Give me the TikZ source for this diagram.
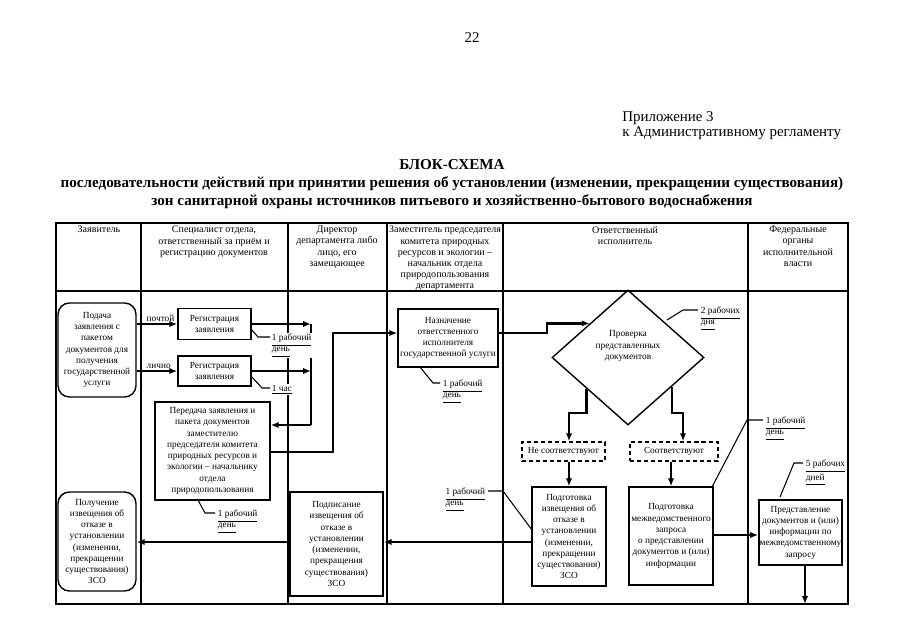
\documentclass[tikz,border=0pt]{standalone}
\usepackage{fontspec}
\setmainfont{Liberation Serif}
\usetikzlibrary{arrows.meta,shapes.geometric,calc}
\newcommand{\bfs}{\fontsize{5.3}{6.4}\selectfont}
\newcommand{\hfs}{\fontsize{5.7}{6.3}\selectfont}
\newcommand{\myul}[1]{\underline{#1}}
\begin{document}
\begin{tikzpicture}[x=0.02cm,y=-0.02cm,
  box/.style={draw, line width=0.8pt, align=center, inner sep=0.5pt, font=\bfs},
  rbox/.style={box, rounded corners=6.5pt},
  dbox/.style={box, dash pattern=on 2.3pt off 1.7pt},
  conn/.style={line width=1.4pt, -{Latex[length=4.5pt,width=3.6pt]}},
  link/.style={line width=1.4pt},
  lead/.style={line width=0.6pt},
  lbl/.style={font=\bfs, align=left, inner sep=0.3pt, fill=white},
  grid/.style={line width=0.9pt},
  head/.style={font=\hfs, align=center, anchor=north, inner sep=0pt}]
\useasboundingbox (0,0) rectangle (905,640);
\fill[white] (0,0) rectangle (905,640);

% page head
\node[font=\fontsize{8.5}{10}\selectfont, inner sep=0] (pg) at (472,38) {22};
\node[anchor=north west, align=left, inner sep=0, font=\fontsize{8.5}{8.9}\selectfont] (app) at (622,111)
  {Приложение 3\\к Административному регламенту};
\node[anchor=north, align=center, inner sep=0, font=\bfseries\fontsize{8.6}{10.3}\selectfont] (title) at (452,159)
  {БЛОК-СХЕМА\\последовательности действий при принятии решения об установлении (изменении, прекращении существования)\\зон санитарной охраны источников питьевого и хозяйственно-бытового водоснабжения};

% table
\draw[grid] (56,223) rectangle (848,604);
\draw[grid] (56,291) -- (848,291);
\foreach \xx in {141,288,387,503,748} \draw[grid] (\xx,223) -- (\xx,604);

\node[head] (h1) at (99,226) {Заявитель};
\node[head] (h2) at (214,226) {Специалист отдела,\\ответственный за приём и\\регистрацию документов};
\node[head] (h3) at (337,226) {Директор\\департамента либо\\лицо, его\\замещающее};
\node[head] (h4) at (445,226) {Заместитель председателя\\комитета природных\\ресурсов и экологии –\\начальник отдела\\природопользования\\департамента};
\node[head] (h5) at (625,226) {Ответственный\\исполнитель};
\node[head] (h6) at (798,226) {Федеральные\\органы\\исполнительной\\власти};

% nodes
\node[rbox, minimum width={78*0.02cm}, minimum height={94*0.02cm}] (podacha) at (97,350)
  {Подача\\заявления с\\пакетом\\документов для\\получения\\государственной\\услуги};
\node[box, minimum width={73*0.02cm}, minimum height={31*0.02cm}] (reg1) at (214.5,324)
  {Регистрация\\заявления};
\node[box, minimum width={73*0.02cm}, minimum height={30*0.02cm}] (reg2) at (214.5,371)
  {Регистрация\\заявления};
\node[box, minimum width={115*0.02cm}, minimum height={98*0.02cm}] (pered) at (212.5,451)
  {Передача заявления и\\пакета документов\\заместителю\\председателя комитета\\природных ресурсов и\\экологии – начальнику\\отдела\\природопользования};
\node[box, minimum width={100*0.02cm}, minimum height={58*0.02cm}] (nazn) at (448,338)
  {Назначение\\ответственного\\исполнителя\\государственной услуги};
\node[diamond, draw, line width=0.8pt, minimum width={152*0.02cm}, minimum height={135*0.02cm}, inner sep=0pt] (dia) at (628,357.5) {};
\node[font=\bfs, align=center, inner sep=0pt] (diat) at (628,346) {Проверка\\представленных\\документов};
\node[dbox, minimum width={83*0.02cm}, minimum height={19*0.02cm}] (ne) at (563.5,451.5) {Не соответствуют};
\node[dbox, minimum width={88*0.02cm}, minimum height={19*0.02cm}] (sootv) at (674,451.5) {Соответствуют};
\node[box, minimum width={74*0.02cm}, minimum height={99*0.02cm}] (podg1) at (569,536.5)
  {Подготовка\\извещения об\\отказе в\\установлении\\(изменении,\\прекращении\\существования)\\ЗСО};
\node[box, minimum width={84*0.02cm}, minimum height={98*0.02cm}] (podg2) at (671,536)
  {Подготовка\\межведомственного\\запроса\\о представлении\\документов и (или)\\информации};
\node[box, minimum width={83*0.02cm}, minimum height={65*0.02cm}] (predst) at (800.5,532.5)
  {Представление\\документов и (или)\\информации по\\межведомственному\\запросу};
\node[box, minimum width={93*0.02cm}, minimum height={104*0.02cm}] (podpis) at (336.5,544)
  {Подписание\\извещения об\\отказе в\\установлении\\(изменении,\\прекращения\\существования)\\ЗСО};
\node[rbox, minimum width={78*0.02cm}, minimum height={99*0.02cm}] (poluch) at (97,541.5)
  {Получение\\извещения об\\отказе в\\установлении\\(изменении,\\прекращении\\существования)\\ЗСО};

% connectors
\draw[conn] (reg1.west -| podacha.east) -- (reg1.west)
  node[pos=0, anchor=south west, font=\bfs, inner sep=0.5pt, xshift=4.5pt] (lp) {почтой};
\draw[conn] (reg2.west -| podacha.east) -- (reg2.west)
  node[pos=0, anchor=south west, font=\bfs, inner sep=0.5pt, xshift=4.5pt] (ll) {лично};
\coordinate (m1) at (311,324);
\coordinate (m2) at (311,371);
\coordinate (m3) at (311,425);
\draw[conn] (reg1.east) -- (m1);
\draw[conn] (reg2.east) -- (m2);
\draw[link] (m1) -- (m3);
\draw[conn] (m3) -- (m3 -| pered.east);
\coordinate (c1) at (333,452);
\coordinate (c2) at (333,333);
\draw[conn] (c1 -| pered.east) -- (c1) -- (c2) -- (c2 -| nazn.west);
\coordinate (d1) at (547,333);
\draw[conn] (d1 -| nazn.east) -- (d1) -- (d1 |- dia.north west) -- (dia.north west);
\coordinate (dL) at ($(dia.south)!0.54!(dia.west)$);
\coordinate (dR) at ($(dia.south)!0.57!(dia.east)$);
\coordinate (bl) at (569,413);
\coordinate (br) at (683,413);
\draw[conn] (dL) -- (dL |- bl) -- (bl) -- (bl |- ne.north);
\draw[conn] (dR) -- (dR |- br) -- (br) -- (br |- sootv.north);
\draw[conn] (bl |- ne.south) -- (podg1.north);
\draw[conn] (podg2.north |- sootv.south) -- (podg2.north);
\coordinate (f) at (0,542);
\draw[conn] (podg1.west |- f) -- (podpis.east |- f);
\draw[conn] (podpis.west |- f) -- (poluch.east |- f);
\coordinate (g) at (0,535);
\draw[conn] (podg2.east |- g) -- (predst.west |- g);
\coordinate (hb) at (805,604);
\draw[conn] (predst.south -| hb) -- (hb);

% leaders and time labels
\draw[lead] (251,329) -- (258,337) -- (270,337);
\node[lbl, anchor=north west] (t1) at (271,333) {\myul{1 рабочий}\\\myul{день}};
\draw[lead] (251,376) -- (262,388) -- (270,388);
\node[lbl, anchor=north west] (t2) at (271,384) {\myul{1 час}};
\draw[lead] (198,500) -- (205,513) -- (215,513);
\node[lbl, anchor=north west] (t3) at (217,509) {\myul{1 рабочий}\\\myul{день}};
\draw[lead] (420,367) -- (433,383) -- (440,383);
\node[lbl, anchor=north west] (t4) at (442,379) {\myul{1 рабочий}\\\myul{день}};
\draw[lead] (667,320) -- (683,310) -- (698,310);
\node[lbl, anchor=north west] (t5) at (700,306) {\myul{2 рабочих}\\\myul{дня}};
\draw[lead] (532,530) -- (503,491) -- (488,491);
\node[lbl, anchor=north east] (t6) at (486,487) {\myul{1 рабочий}\\\myul{день}};
\draw[lead] (712,487) -- (747,420) -- (763,420);
\node[lbl, anchor=north west] (t7) at (765,416) {\myul{1 рабочий}\\\myul{день}};
\draw[lead] (780,497) -- (794,463) -- (803,463);
\node[lbl, anchor=north west] (t8) at (805,459) {\myul{5 рабочих}\\\myul{дней}};
\end{tikzpicture}
\end{document}
